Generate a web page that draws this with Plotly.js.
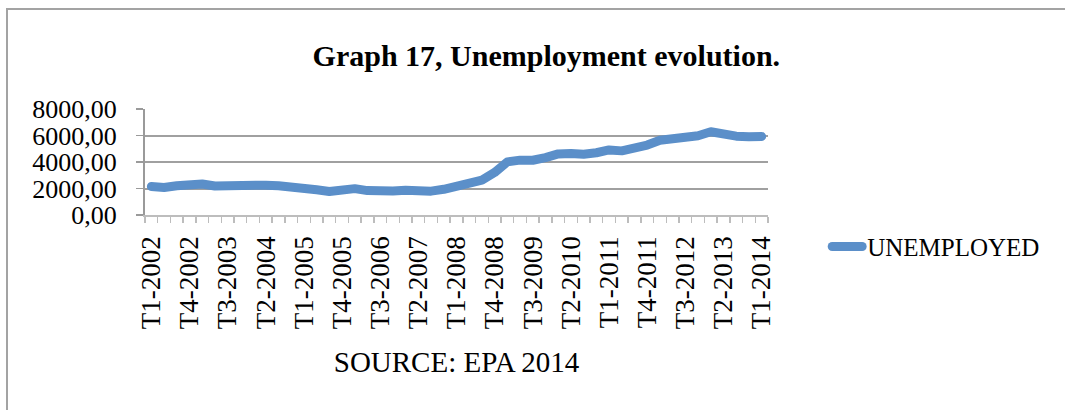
<!DOCTYPE html>
<html>
<head>
<meta charset="utf-8">
<script src="https://cdn.plot.ly/plotly-3.0.1.min.js"></script>
<style>
  html, body { margin: 0; padding: 0; background: #ffffff; }
  #wrap { position: relative; width: 1065px; height: 410px; overflow: hidden; }
  #chart { position: absolute; left: 0; top: 0; width: 1065px; height: 410px; }
  #frame { position: absolute; left: 6px; top: 8px; width: 1100px; height: 450px;
           border-left: 2px solid #a3a3a3; border-top: 2px solid #a3a3a3; pointer-events: none; }
  .js-line { stroke-linejoin: round; stroke-linecap: round; }
</style>
</head>
<body>
<div id="wrap">
  <div id="chart"></div>
  <div id="frame"></div>
</div>
<script>
const chartTitle = 'Graph 17, Unemployment evolution.';
const sourceText = 'SOURCE: EPA 2014';
const seriesName = 'UNEMPLOYED';

const categories = [
  'T1-2002','T2-2002','T3-2002','T4-2002',
  'T1-2003','T2-2003','T3-2003','T4-2003',
  'T1-2004','T2-2004','T3-2004','T4-2004',
  'T1-2005','T2-2005','T3-2005','T4-2005',
  'T1-2006','T2-2006','T3-2006','T4-2006',
  'T1-2007','T2-2007','T3-2007','T4-2007',
  'T1-2008','T2-2008','T3-2008','T4-2008',
  'T1-2009','T2-2009','T3-2009','T4-2009',
  'T1-2010','T2-2010','T3-2010','T4-2010',
  'T1-2011','T2-2011','T3-2011','T4-2011',
  'T1-2012','T2-2012','T3-2012','T4-2012',
  'T1-2013','T2-2013','T3-2013','T4-2013',
  'T1-2014'
];

const unemployed = [
  2150, 2080, 2210, 2240,
  2340, 2190, 2240, 2290,
  2300, 2250, 2200, 2150,
  2070, 1900, 1780, 1860,
  1990, 1840, 1770, 1810,
  1860, 1750, 1800, 1940,
  2220, 2430, 2640, 3210,
  4010, 4140, 4130, 4330,
  4610, 4650, 4580, 4700,
  4910, 4840, 4980, 5280,
  5640, 5700, 5790, 5980,
  6280, 6050, 5950, 5910,
  5930
];

const yTicks = [0, 2000, 4000, 6000, 8000];
const labelEvery = 3;

const xIdx = categories.map((c, i) => i);
const tickIdx = xIdx.filter(i => i % labelEvery === 0);
const tickTxt = tickIdx.map(i => categories[i]);

const serif = '"Liberation Serif", "Times New Roman", serif';

const trace = {
  type: 'scatter',
  mode: 'lines',
  name: seriesName,
  x: xIdx,
  y: unemployed,
  text: categories,
  line: { color: '#5b8fc9', width: 9 },
  hoverinfo: 'text+y'
};

const layout = {
  width: 1065,
  height: 410,
  paper_bgcolor: '#ffffff',
  plot_bgcolor: '#ffffff',
  separators: ',.',
  margin: { l: 145, r: 297, t: 109, b: 195, pad: 0 },
  font: { family: serif, color: '#000000', size: 26 },
  title: {
    text: '<b>' + chartTitle + '</b>',
    font: { family: serif, size: 30, color: '#000000' },
    xref: 'container', x: 0.513, xanchor: 'center',
    yref: 'container', y: 0.864, yanchor: 'middle'
  },
  xaxis: {
    type: 'linear',
    range: [-0.5, categories.length - 0.5],
    tickmode: 'array',
    tickvals: tickIdx,
    ticktext: tickTxt,
    tickangle: -90,
    ticks: '',
    ticklabelstandoff: 9,
    tickfont: { family: serif, size: 27, color: '#000000' },
    showgrid: false,
    zeroline: false,
    showline: true,
    linecolor: '#bdbdbd',
    linewidth: 1.5,
    minor: {
      tickmode: 'linear', tick0: -0.5, dtick: 1,
      ticks: 'outside', ticklen: 6, tickcolor: '#bdbdbd', tickwidth: 1.3,
      showgrid: false
    },
    title: {
      text: sourceText,
      font: { family: serif, size: 29, color: '#000000' },
      standoff: 23
    }
  },
  yaxis: {
    range: [0, 8000],
    tickmode: 'array',
    tickvals: yTicks,
    tickformat: '.2f',
    ticks: 'outside',
    ticklen: 7,
    tickcolor: '#9a9a9a',
    tickwidth: 1.5,
    ticklabelstandoff: 14,
    tickfont: { family: serif, size: 26, color: '#000000' },
    showgrid: true,
    gridcolor: '#a0a0a0',
    gridwidth: 2,
    zeroline: false,
    showline: true,
    linecolor: '#9a9a9a',
    linewidth: 2
  },
  showlegend: true,
  legend: {
    xref: 'paper', x: 1.095, xanchor: 'left',
    yref: 'paper', y: -0.3, yanchor: 'middle',
    font: { family: serif, size: 25, color: '#000000' },
    bgcolor: 'rgba(0,0,0,0)',
    borderwidth: 0
  }
};

Plotly.newPlot('chart', [trace], layout, { displayModeBar: false, staticPlot: true });
</script>
</body>
</html>
